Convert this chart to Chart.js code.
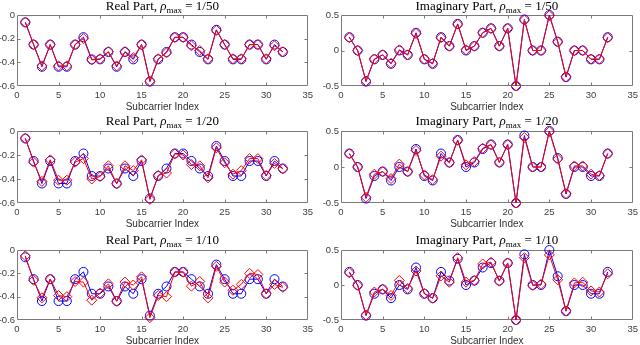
<!DOCTYPE html>
<html><head><meta charset="utf-8">
<script src="https://cdn.jsdelivr.net/npm/chart.js@4"></script>
<style>
html,body{margin:0;padding:0;background:#fff;overflow:hidden;width:640px;height:345px;position:relative}
canvas{position:absolute}
</style></head><body>
<script>
// ---- data ----
const subcarriers = [1,2,3,4,5,6,7,8,9,10,11,12,13,14,15,16,17,18,19,20,21,22,23,24,25,26,27,28,29,30,31,32];
const xTicks = [0,5,10,15,20,25,30,35];
const realTicks = [-0.6,-0.4,-0.2,0];
const imagTicks = [-0.5,0,0.5];
const rhoLabels = ['1/50','1/20','1/10'];
const xTitle = 'Subcarrier Index';

const trueReal = [-0.0625,-0.25,-0.4375,-0.25,-0.4375,-0.4375,-0.25,-0.1875,-0.375,-0.375,-0.3125,-0.4375,-0.3125,-0.375,-0.25,-0.5625,-0.375,-0.3125,-0.1875,-0.1875,-0.25,-0.3125,-0.375,-0.125,-0.25,-0.375,-0.375,-0.25,-0.25,-0.375,-0.25,-0.3125];
const trueImag = [0.1875,0,-0.4375,-0.125,-0.0625,-0.1875,0,-0.0625,0.25,-0.125,-0.1875,0.1875,0.0625,0.375,0,0.0625,0.25,0.3125,0.0625,0.3125,-0.5,0.4375,0,0,0.5,0.125,-0.375,0,0,-0.125,-0.125,0.1875];

const estReal50 = [-0.06,-0.25,-0.43,-0.25,-0.43,-0.43,-0.25,-0.20,-0.38,-0.37,-0.31,-0.43,-0.31,-0.36,-0.25,-0.56,-0.37,-0.32,-0.19,-0.19,-0.26,-0.30,-0.37,-0.13,-0.25,-0.37,-0.37,-0.25,-0.25,-0.37,-0.26,-0.31];
const estImag50 = [0.18,0,-0.43,-0.12,-0.06,-0.18,0.01,-0.06,0.24,-0.12,-0.18,0.18,0.06,0.37,0.01,0.06,0.25,0.31,0.06,0.31,-0.5,0.43,0,0,0.49,0.12,-0.37,0,0,-0.12,-0.12,0.18];
const estReal20 = [-0.06,-0.26,-0.42,-0.24,-0.41,-0.41,-0.26,-0.23,-0.40,-0.38,-0.29,-0.44,-0.29,-0.33,-0.24,-0.57,-0.37,-0.35,-0.19,-0.20,-0.28,-0.29,-0.39,-0.14,-0.265,-0.36,-0.33,-0.23,-0.23,-0.37,-0.27,-0.315];
const estImag20 = [0.185,0,-0.42,-0.10,-0.066,-0.16,0.04,-0.066,0.23,-0.11,-0.175,0.15,0.06,0.37,0.03,0.075,0.26,0.31,0.066,0.31,-0.5,0.41,0,0,0.49,0.11,-0.37,0.015,0.015,-0.10,-0.12,0.185];
const estReal10 = [-0.05,-0.26,-0.41,-0.25,-0.39,-0.40,-0.27,-0.275,-0.43,-0.37,-0.29,-0.44,-0.275,-0.30,-0.23,-0.58,-0.39,-0.40,-0.19,-0.19,-0.31,-0.27,-0.41,-0.14,-0.275,-0.345,-0.295,-0.20,-0.21,-0.375,-0.295,-0.32];
const estImag10 = [0.175,-0.005,-0.43,-0.10,-0.06,-0.15,0.065,-0.05,0.2,-0.12,-0.19,0.13,0.04,0.39,0.04,0.065,0.3,0.325,0.055,0.315,-0.5,0.39,-0.005,0.01,0.43,0.075,-0.37,0.03,0.04,-0.085,-0.1,0.16];

// ---- layout (plot-area boxes in page pixels) ----
const colX = [[17,309],[341,634]];
const rowY = [[15,86],[131,203],[250,320]];
const titleGap = [5,6.5,6.5];

const panels = [
  {kind:'Real', rho:rhoLabels[0], truth:trueReal, est:estReal50, ticks:realTicks, min:-0.6, max:0, col:0, row:0},
  {kind:'Imaginary', rho:rhoLabels[0], truth:trueImag, est:estImag50, ticks:imagTicks, min:-0.5, max:0.5, col:1, row:0},
  {kind:'Real', rho:rhoLabels[1], truth:trueReal, est:estReal20, ticks:realTicks, min:-0.6, max:0, col:0, row:1},
  {kind:'Imaginary', rho:rhoLabels[1], truth:trueImag, est:estImag20, ticks:imagTicks, min:-0.5, max:0.5, col:1, row:1},
  {kind:'Real', rho:rhoLabels[2], truth:trueReal, est:estReal10, ticks:realTicks, min:-0.6, max:0, col:0, row:2},
  {kind:'Imaginary', rho:rhoLabels[2], truth:trueImag, est:estImag10, ticks:imagTicks, min:-0.5, max:0.5, col:1, row:2},
];

const Y_W = 20, X_H = 27, PADL = 25, PADT = 22, PADR = 8, PADB = 3;

function boxPlugin(p, gap){
  return {
    id:'boxTicks',
    beforeDatasetsDraw(chart){
      const ctx = chart.ctx, a = chart.chartArea;
      const xs = chart.scales.x, ys = chart.scales.y;
      ctx.save();
      ctx.strokeStyle = '#7a7a7a';
      ctx.lineWidth = 1;
      const L = Math.round(a.left)+0.5, R = Math.round(a.right)-0.5, T = Math.round(a.top)+0.5, B = Math.round(a.bottom)-0.5;
      ctx.beginPath();
      ctx.rect(L, T, R-L, B-T);
      xTicks.forEach(v=>{
        if (v<=xs.min || v>=xs.max) return;
        const px = Math.round(xs.getPixelForValue(v))+0.5;
        ctx.moveTo(px,B); ctx.lineTo(px,B-3);
        ctx.moveTo(px,T); ctx.lineTo(px,T+3);
      });
      p.ticks.forEach(v=>{
        if (v<=ys.min || v>=ys.max) return;
        const py = Math.round(ys.getPixelForValue(v))+0.5;
        ctx.moveTo(L,py); ctx.lineTo(L+3,py);
        ctx.moveTo(R,py); ctx.lineTo(R-3,py);
      });
      ctx.stroke();
      ctx.restore();
    },
    afterDraw(chart){
      const ctx = chart.ctx, a = chart.chartArea;
      const fam = '"Liberation Serif", "DejaVu Serif", serif';
      const parts = [
        [p.kind+' Part, ', '13px '+fam, 0],
        ['\u03C1', 'italic 13px '+fam, 0],
        ['max', '9px '+fam, 3],
        [' = '+p.rho, '13px '+fam, 0]
      ];
      ctx.save();
      ctx.fillStyle = '#000';
      ctx.textBaseline = 'alphabetic';
      ctx.textAlign = 'left';
      let total = 0;
      const ws = parts.map(pt=>{ ctx.font = pt[1]; const w = ctx.measureText(pt[0]).width; total += w; return w; });
      let x = (a.left + a.right)/2 - total/2;
      const base = a.top - gap;
      parts.forEach((pt,i)=>{ ctx.font = pt[1]; ctx.fillText(pt[0], x, base + pt[2]); x += ws[i]; });
      ctx.restore();
    }
  };
}

panels.forEach(p=>{
  const [l,r] = colX[p.col], [t,b] = rowY[p.row];
  const w = (r-l)+PADL+PADR, h = (b-t)+PADT+X_H+PADB;
  const cv = document.createElement('canvas');
  cv.width = w; cv.height = h;
  cv.style.left = (l-PADL)+'px'; cv.style.top = (t-PADT)+'px';
  cv.style.width = w+'px'; cv.style.height = h+'px';
  document.body.appendChild(cv);
  new Chart(cv, {
    type:'line',
    data:{ datasets:[
      {label:'Estimated', data: subcarriers.map((x,i)=>({x:x, y:p.est[i]})),
       borderColor:'#ff0000', borderWidth:1, pointStyle:'rectRot', pointRadius:5,
       pointBorderColor:'#ff0000', pointBorderWidth:1, pointBackgroundColor:'rgba(0,0,0,0)',
       fill:false, tension:0, clip:false, order:0},
      {label:'True', data: subcarriers.map((x,i)=>({x:x, y:p.truth[i]})),
       borderColor:'#0000ff', borderWidth:1, pointStyle:'circle', pointRadius:4.5,
       pointBorderColor:'#0000ff', pointBorderWidth:1, pointBackgroundColor:'rgba(0,0,0,0)',
       fill:false, tension:0, clip:false, order:1}
    ]},
    options:{
      responsive:false, animation:false, devicePixelRatio:1,
      events:[],
      layout:{padding:{left:PADL-Y_W, top:PADT, right:PADR, bottom:PADB}},
      plugins:{legend:{display:false}, tooltip:{enabled:false}, title:{display:false}},
      scales:{
        x:{type:'linear', min:0, max:35,
           afterBuildTicks:s=>{ s.ticks = xTicks.map(v=>({value:v})); },
           afterFit:s=>{ s.height = X_H; },
           grid:{display:false, drawTicks:false}, border:{display:false},
           ticks:{font:{family:'"Liberation Sans", Arial, sans-serif', size:9.5}, color:'#404040', padding:4, maxRotation:0, autoSkip:false,
                  callback:v=>String(v)},
           title:{display:true, text:xTitle, font:{family:'"Liberation Sans", Arial, sans-serif', size:10}, color:'#303030', padding:{top:0,bottom:0}}
        },
        y:{type:'linear', min:p.min, max:p.max,
           afterBuildTicks:s=>{ s.ticks = p.ticks.map(v=>({value:v})); },
           afterFit:s=>{ s.width = Y_W; },
           grid:{display:false, drawTicks:false}, border:{display:false},
           ticks:{font:{family:'"Liberation Sans", Arial, sans-serif', size:9.5}, color:'#404040', padding:2, autoSkip:false,
                  callback:v=>String(v)}
        }
      }
    },
    plugins:[boxPlugin(p, titleGap[p.row])]
  });
});
</script>
</body></html>
